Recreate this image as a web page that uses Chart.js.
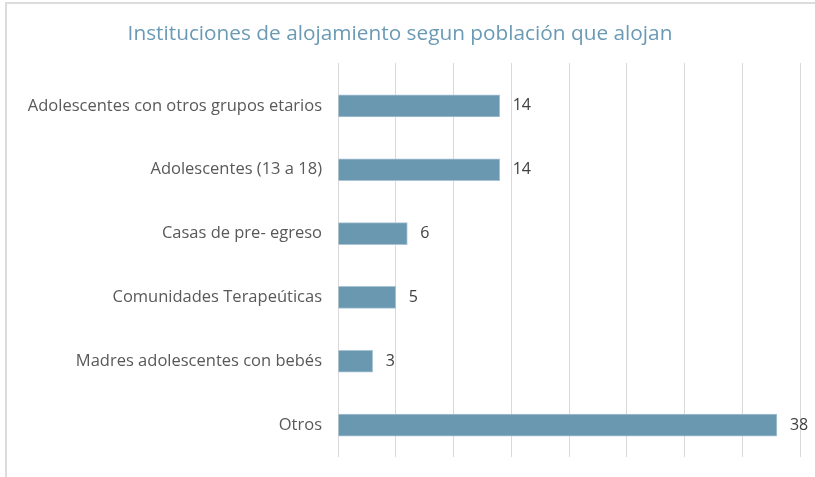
<!DOCTYPE html>
<html>
<head>
<meta charset="utf-8">
<script src="https://cdn.jsdelivr.net/npm/chart.js@4"></script>
<style>
  html, body { margin: 0; padding: 0; background: #fff; }
  #wrap { position: relative; width: 815px; height: 477px; }
  #frame { position: absolute; left: 5px; top: 2px; right: 0; bottom: 0;
           border-top: 2px solid #dcdcdc; border-left: 2px solid #dcdcdc; pointer-events: none; }
  canvas { position: absolute; left: 0; top: 0; }
</style>
</head>
<body>
<div id="wrap">
  <canvas id="chart" width="815" height="477"></canvas>
  <div id="frame"></div>
</div>
<script>
// Datos del gráfico
const categorias = [
  "Adolescentes con otros grupos etarios",
  "Adolescentes (13 a 18)",
  "Casas de pre- egreso",
  "Comunidades Terapeúticas",
  "Madres adolescentes con bebés",
  "Otros",
];
const valores = [14, 14, 6, 5, 3, 38];
const titulo = "Instituciones de alojamiento segun población que alojan";

// Plugin para escribir el valor al final de cada barra
const etiquetasValor = {
  id: "etiquetasValor",
  afterDatasetsDraw(chart) {
    const ctx = chart.ctx;
    ctx.save();
    ctx.font = "16px 'Open Sans', sans-serif";
    ctx.fillStyle = "#404040";
    ctx.textAlign = "left";
    ctx.textBaseline = "middle";
    chart.getDatasetMeta(0).data.forEach((bar, i) => {
      ctx.fillText(String(valores[i]), bar.x + 13, bar.y);
    });
    ctx.restore();
  },
};

const ctx = document.getElementById("chart").getContext("2d");
new Chart(ctx, {
  type: "bar",
  data: {
    labels: categorias,
    datasets: [
      {
        data: valores,
        backgroundColor: "#6a98b1",
        borderColor: "#a8c3d3",
        borderWidth: 1,
        barThickness: 22,
      },
    ],
  },
  options: {
    indexAxis: "y",
    responsive: false,
    animation: false,
    layout: { padding: { left: 0, right: 15, top: 0, bottom: 20 } },
    plugins: {
      legend: { display: false },
      tooltip: { enabled: false },
      title: {
        display: true,
        text: titulo,
        color: "#6a9ab5",
        font: { family: "'Open Sans'", size: 20.8, weight: "normal" },
        padding: { top: 22, bottom: 16 },
      },
    },
    scales: {
      x: {
        position: "top",
        min: 0,
        max: 40,
        ticks: { display: false, stepSize: 5 },
        grid: { color: "#d9d9d9", lineWidth: 1, drawTicks: true, tickLength: 11 },
        border: { display: false },
      },
      y: {
        grid: { display: false },
        border: { display: false },
        ticks: {
          color: "#595959",
          font: { family: "'Open Sans'", size: 16.5 },
          padding: 8,
        },
        afterFit(scale) {
          scale.width = 338;
        },
      },
    },
  },
  plugins: [etiquetasValor],
});
</script>
</body>
</html>
